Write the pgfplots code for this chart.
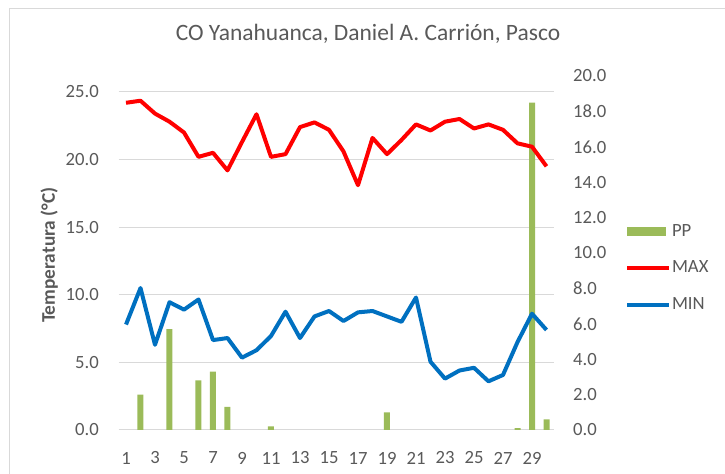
\documentclass[border=0pt]{standalone}
\usepackage{fontspec}
\setmainfont{Carlito}
\usepackage{pgfplots}
\pgfplotsset{compat=1.18}
\definecolor{txt}{HTML}{595959}
\definecolor{gridc}{HTML}{D9D9D9}
\definecolor{ppgreen}{HTML}{9BBB59}
\definecolor{maxred}{HTML}{FF0000}
\definecolor{minblue}{HTML}{0070C0}

\pgfplotsset{
  base/.style={
    scale only axis, width=326.25pt, height=265.5pt,
    at={(0,0)}, anchor=south west,
    xmin=0.5, xmax=30.5,
    axis line style={draw=none}, major tick length=0pt,
    tick label style={font=\fontsize{14}{16}\selectfont, text=txt},
    /pgf/number format/assume math mode=true,
  },
  onedec/.style={/pgf/number format/fixed, /pgf/number format/fixed zerofill, /pgf/number format/precision=1},
}

\begin{document}
\begin{tikzpicture}
\useasboundingbox (-89.0625pt,-33pt) rectangle (454.6875pt,322.5pt);
\draw[gridc, line width=0.75pt] (-81.5625pt,-40pt) -- (-81.5625pt,315.75pt) -- (460pt,315.75pt);

% primary axis: grid, labels, title
\begin{axis}[base,
  ymin=0, ymax=26.18, ytick={0,5,...,25}, xtick={1,3,...,29},
  ymajorgrids, grid style={gridc, line width=0.75pt},
  yticklabel style={onedec, anchor=east, inner sep=0pt, xshift=-14.8pt},
  xticklabel style={anchor=center, inner sep=0pt, yshift=-21pt},
  title={CO Yanahuanca, Daniel A. Carrión, Pasco},
  title style={at={(axis description cs:0.573,1.079)}, anchor=base,
    font=\fontsize{17.6}{20}\selectfont, text=txt},
  ylabel={Temperatura (°C)},
  ylabel style={at={(axis description cs:-0.1466,0.494)}, anchor=base,
    font=\bfseries\fontsize{14.5}{16}\selectfont, text=txt, inner sep=0pt},
]
\end{axis}

% secondary axis: precipitation bars
\begin{axis}[base, ybar, bar width=4.5pt,
  ymin=0, ymax=20, ytick={0,2,...,20}, xtick=\empty, yticklabel pos=right,
  yticklabel style={onedec, anchor=west, inner sep=0pt, xshift=14.4pt},
  legend style={at={(axis description cs:1.164,0.458)}, anchor=west,
    draw=none, fill=none, font=\fontsize{14}{16}\selectfont, text=txt,
    row sep=15pt, cells={anchor=west}, inner sep=0pt, nodes={inner sep=1pt}},
]
\addplot[fill=ppgreen, draw=none,
  legend image code/.code={\fill[ppgreen] (0pt,-3.4pt) rectangle (29pt,3.4pt);}]
  coordinates {(2,2.0) (4,5.7) (6,2.8) (7,3.3) (8,1.3) (11,0.2) (19,1.0) (28,0.1) (29,18.5) (30,0.6)};
\addlegendentry{PP}
\addlegendimage{legend image code/.code={\draw[maxred, line width=3pt] (0pt,0pt) -- (31pt,0pt);}}
\addlegendentry{MAX}
\addlegendimage{legend image code/.code={\draw[minblue, line width=3pt] (0pt,0pt) -- (31pt,0pt);}}
\addlegendentry{MIN}
\end{axis}

% temperature lines on top
\begin{axis}[base, ymin=0, ymax=26.18, hide axis]
\addplot[maxred, line width=3pt, line join=round] coordinates {
(1,24.2) (2,24.35) (3,23.4) (4,22.8) (5,22.0) (6,20.2) (7,20.5) (8,19.2) (9,21.3) (10,23.35)
(11,20.2) (12,20.4) (13,22.4) (14,22.75) (15,22.2) (16,20.6) (17,18.1) (18,21.6) (19,20.4) (20,21.45)
(21,22.6) (22,22.15) (23,22.8) (24,23.0) (25,22.3) (26,22.6) (27,22.2) (28,21.2) (29,20.95) (30,19.5)};
\addplot[minblue, line width=3pt, line join=round] coordinates {
(1,7.8) (2,10.5) (3,6.3) (4,9.45) (5,8.9) (6,9.65) (7,6.65) (8,6.8) (9,5.35) (10,5.9)
(11,6.95) (12,8.75) (13,6.8) (14,8.4) (15,8.8) (16,8.06) (17,8.7) (18,8.8) (19,8.4) (20,8.0)
(21,9.8) (22,5.05) (23,3.8) (24,4.4) (25,4.6) (26,3.6) (27,4.07) (28,6.5) (29,8.6) (30,7.4)};
\end{axis}
\end{tikzpicture}
\end{document}
